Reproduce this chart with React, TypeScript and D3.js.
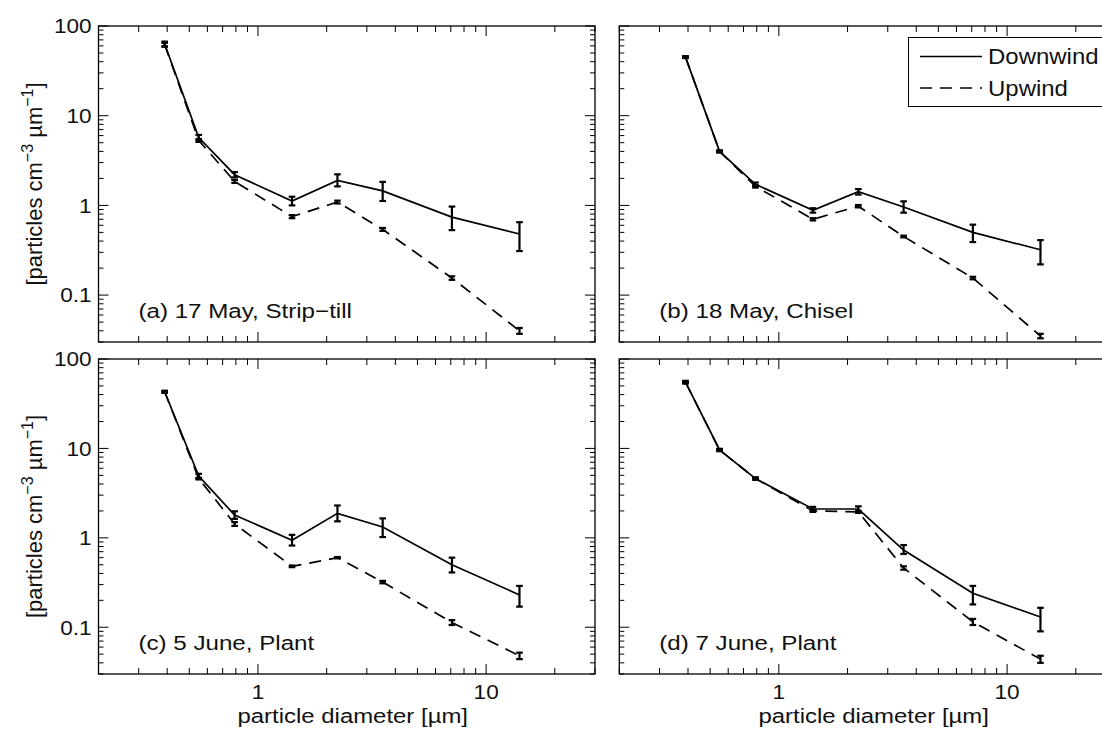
import React from 'react';
import * as d3 from 'd3';

// particle diameters (µm) shared by all panels
const diameters = [0.39, 0.55, 0.79, 1.41, 2.23, 3.52, 7.08, 14.0];

const panelLabels = ['(a) 17 May, Strip\u2212till', '(b) 18 May, Chisel', '(c) 5 June, Plant', '(d) 7 June, Plant'];

// (a) 17 May
const downA = [63, 5.7, 2.2, 1.12, 1.9, 1.45, 0.74, 0.48];
const downALo = [59, 5.3, 2.05, 1.0, 1.63, 1.12, 0.53, 0.31];
const downAHi = [67, 6.1, 2.35, 1.25, 2.22, 1.83, 0.97, 0.65];
const upA = [62, 5.3, 1.85, 0.75, 1.09, 0.54, 0.155, 0.04];
const upALo = [59, 5.1, 1.78, 0.72, 1.05, 0.52, 0.148, 0.037];
const upAHi = [65, 5.5, 1.92, 0.78, 1.13, 0.56, 0.162, 0.043];

// (b) 18 May
const downB = [45, 4.0, 1.72, 0.88, 1.42, 0.96, 0.5, 0.32];
const downBLo = [44, 3.9, 1.64, 0.83, 1.32, 0.83, 0.39, 0.22];
const downBHi = [46, 4.1, 1.8, 0.93, 1.52, 1.11, 0.61, 0.41];
const upB = [45, 4.0, 1.63, 0.7, 0.98, 0.45, 0.155, 0.035];
const upBLo = [44, 3.9, 1.58, 0.68, 0.95, 0.44, 0.15, 0.033];
const upBHi = [46, 4.1, 1.68, 0.72, 1.01, 0.46, 0.16, 0.037];

// (c) 5 June
const downC = [43, 4.9, 1.8, 0.94, 1.88, 1.32, 0.5, 0.23];
const downCLo = [42, 4.6, 1.63, 0.82, 1.53, 1.02, 0.41, 0.17];
const downCHi = [44, 5.2, 1.98, 1.08, 2.3, 1.65, 0.6, 0.29];
const upC = [43, 4.6, 1.43, 0.48, 0.6, 0.32, 0.113, 0.048];
const upCLo = [42, 4.5, 1.36, 0.47, 0.59, 0.31, 0.106, 0.044];
const upCHi = [44, 4.7, 1.5, 0.49, 0.61, 0.33, 0.12, 0.052];

// (d) 7 June
const downD = [55, 9.6, 4.6, 2.1, 2.1, 0.73, 0.24, 0.13];
const downDLo = [53, 9.3, 4.45, 1.98, 1.95, 0.66, 0.18, 0.09];
const downDHi = [57, 9.9, 4.75, 2.22, 2.25, 0.83, 0.29, 0.165];
const upD = [55, 9.6, 4.6, 2.0, 1.95, 0.46, 0.115, 0.044];
const upDLo = [54, 9.4, 4.5, 1.95, 1.9, 0.44, 0.106, 0.04];
const upDHi = [56, 9.8, 4.7, 2.05, 2.0, 0.48, 0.124, 0.048];

const xDomain = [0.2, 30];
const yDomain = [0.03, 100];
const xTickLabels = ['1', '10'];
const yTickLabels = ['0.1', '1', '10', '100'];
const legendLabels = ['Downwind', 'Upwind'];
const xAxisTitle = 'particle diameter [\u00b5m]';

const FONT = '"Liberation Sans", Arial, Helvetica, sans-serif';
const TEXT = '#111';

type Series = { v: number[]; lo: number[]; hi: number[] };
type PanelData = { label: string; down: Series; up: Series };

const panels: PanelData[] = [
  { label: panelLabels[0], down: { v: downA, lo: downALo, hi: downAHi }, up: { v: upA, lo: upALo, hi: upAHi } },
  { label: panelLabels[1], down: { v: downB, lo: downBLo, hi: downBHi }, up: { v: upB, lo: upBLo, hi: upBHi } },
  { label: panelLabels[2], down: { v: downC, lo: downCLo, hi: downCHi }, up: { v: upC, lo: upCLo, hi: upCHi } },
  { label: panelLabels[3], down: { v: downD, lo: downDLo, hi: downDHi }, up: { v: upD, lo: upDLo, hi: upDHi } },
];

const boxes = [
  { x0: 98.5, x1: 595, y0: 26, y1: 342 },
  { x0: 619.3, x1: 1116, y0: 26, y1: 342 },
  { x0: 98.5, x1: 595, y0: 359, y1: 674 },
  { x0: 619.3, x1: 1116, y0: 359, y1: 674 },
];

function isMajor(v: number) {
  const l = Math.log10(v);
  return Math.abs(l - Math.round(l)) < 1e-9;
}

function Panel({ data, box, idx }: { data: PanelData; box: typeof boxes[0]; idx: number }) {
  const { x0, x1, y0, y1 } = box;
  const x = d3.scaleLog().domain(xDomain).range([x0, x1]);
  const y = d3.scaleLog().domain(yDomain).range([y1, y0]);
  const line = d3
    .line<number>()
    .x((_, i) => x(diameters[i]))
    .y((d) => y(d));
  const showX = idx >= 2;
  const showY = idx % 2 === 0;
  const xt = x.ticks();
  const yt = y.ticks();
  const cap = 3.3;

  const errBars = (s: Series, key: string) =>
    s.v.map((_, i) => {
      const cx = x(diameters[i]);
      const ya = y(s.lo[i]);
      const yb = y(s.hi[i]);
      return (
        <g key={key + i} stroke="#000" strokeWidth={2.2}>
          <line x1={cx} x2={cx} y1={ya} y2={yb} />
          <line x1={cx - cap} x2={cx + cap} y1={ya} y2={ya} />
          <line x1={cx - cap} x2={cx + cap} y1={yb} y2={yb} />
        </g>
      );
    });

  return (
    <g>
      {/* ticks */}
      {xt.map((t, i) => {
        const L = isMajor(t) ? 10 : 6;
        const px = x(t);
        return (
          <g key={'xt' + i} stroke="#000" strokeWidth={1}>
            <line x1={px} x2={px} y1={y1} y2={y1 - L} />
            <line x1={px} x2={px} y1={y0} y2={y0 + L} />
          </g>
        );
      })}
      {yt.map((t, i) => {
        const L = isMajor(t) ? 10 : 5;
        const py = y(t);
        return (
          <g key={'yt' + i} stroke="#000" strokeWidth={1}>
            <line x1={x0} x2={x0 + L} y1={py} y2={py} />
            <line x1={x1} x2={x1 - L} y1={py} y2={py} />
          </g>
        );
      })}
      <rect x={x0} y={y0} width={x1 - x0} height={y1 - y0} fill="none" stroke="#000" strokeWidth={1.3} />

      {/* data */}
      <path d={line(data.up.v) || ''} fill="none" stroke="#000" strokeWidth={1.7} strokeDasharray="12 8" />
      <path d={line(data.down.v) || ''} fill="none" stroke="#000" strokeWidth={1.7} />
      {errBars(data.up, 'u')}
      {errBars(data.down, 'd')}

      {/* panel label */}
      <text transform={`translate(${x0 + 40},${y1 - 24}) scale(1.15,1)`} fontSize={21} fontFamily={FONT} fill={TEXT}>
        {data.label}
      </text>

      {showY &&
        yt.filter(isMajor).map((t, i) => (
          <text
            key={'yl' + i}
            transform={`translate(${x0 - 7},${y(t)}) scale(1.1,1)`}
            dy="0.36em"
            textAnchor="end"
            fontSize={20.5}
            fontFamily={FONT}
            fill={TEXT}
          >
            {yTickLabels[i]}
          </text>
        ))}
      {showY && (
        <text
          transform={`translate(42,${(y0 + y1) / 2}) rotate(-90)`}
          textAnchor="middle"
          fontSize={22}
          fontFamily={FONT}
          fill={TEXT}
        >
          [particles cm
          <tspan dy={-9} fontSize={16}>{'\u22123'}</tspan>
          <tspan dy={9}>{' \u00b5m'}</tspan>
          <tspan dy={-9} fontSize={16}>{'\u22121'}</tspan>
          <tspan dy={9}>]</tspan>
        </text>
      )}
      {showX &&
        xt.filter(isMajor).map((t, i) => (
          <text
            key={'xl' + i}
            transform={`translate(${x(t)},${y1 + 25}) scale(1.1,1)`}
            textAnchor="middle"
            fontSize={20.5}
            fontFamily={FONT}
            fill={TEXT}
          >
            {xTickLabels[i]}
          </text>
        ))}
      {showX && (
        <text
          transform={`translate(${(x0 + x1) / 2 + 6},${y1 + 49}) scale(1.14,1)`}
          textAnchor="middle"
          fontSize={21}
          fontFamily={FONT}
          fill={TEXT}
        >
          {xAxisTitle}
        </text>
      )}
    </g>
  );
}

function Legend() {
  const lx = 908.5;
  const ly = 37.5;
  const rows = [56.5, 88];
  return (
    <g>
      <rect x={lx} y={ly} width={200} height={69} fill="#fff" stroke="#000" strokeWidth={1} />
      {legendLabels.map((l, i) => (
        <g key={l}>
          <line
            x1={920}
            x2={982}
            y1={rows[i]}
            y2={rows[i]}
            stroke="#000"
            strokeWidth={1.7}
            strokeDasharray={i === 1 ? '12 8' : undefined}
          />
          <text
            transform={`translate(988,${rows[i]}) scale(1.09,1)`}
            dy="0.36em"
            fontSize={22}
            fontFamily={FONT}
            fill={TEXT}
          >
            {l}
          </text>
        </g>
      ))}
    </g>
  );
}

export default function App() {
  return (
    <svg
      width={1102}
      height={732}
      style={{ position: 'absolute', left: 0, top: 0, display: 'block', background: '#fff' }}
    >
      <rect x={0} y={0} width={1102} height={732} fill="#fff" />
      {panels.map((p, i) => (
        <Panel key={i} data={p} box={boxes[i]} idx={i} />
      ))}
      <Legend />
    </svg>
  );
}
